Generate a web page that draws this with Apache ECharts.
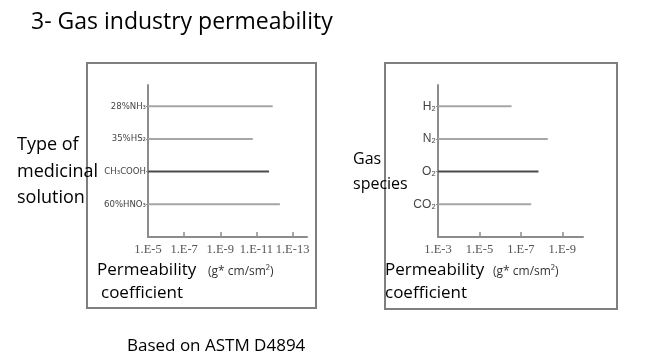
<!DOCTYPE html>
<html>
<head>
<meta charset="utf-8">
<script src="https://cdn.jsdelivr.net/npm/echarts@6/dist/echarts.min.js"></script>
<style>html,body{margin:0;padding:0;background:#fff}#c{width:650px;height:363px}</style>
</head>
<body>
<div id="c"></div>
<script>
// Left panel: medicinal solutions, permeability exponent n in 1.E-n
const solutionCategories = ['28%NH₃', '35%HS₂', 'CH₃COOH', '60%HNO₃'];
const solutionExponents = [11.9, 10.8, 11.7, 12.3];
const solutionTickLabels = [5, 7, 9, 11, 13];
// Right panel: gas species
const gasCategories = ['H₂', 'N₂', 'O₂', 'CO₂'];
const gasExponents = [6.55, 8.3, 7.85, 7.5];
const gasTickLabels = [3, 5, 7, 9];

const chart = echarts.init(document.getElementById('c'));
const light = '#a6a6a6', dark = '#4a4a4a', highlightRow = 2;
const txt = '#000', fam = 'Open Sans, Noto Sans, sans-serif';

function rowSeries(cats, vals, start, axisIdx) {
  return cats.map((c, i) => ({
    type: 'line', xAxisIndex: axisIdx, yAxisIndex: axisIdx,
    symbol: 'none', silent: true, animation: false,
    lineStyle: { width: 2, color: i === highlightRow ? dark : light },
    data: [[start, cats.length - i], [vals[i], cats.length - i]]
  }));
}
function yAxis(gi, cats, fontSize, fontFamily) {
  return {
    type: 'value', gridIndex: gi, min: 0, max: 4.65,
    axisLine: { show: true, lineStyle: { color: '#8c8c8c', width: 2 } },
    axisTick: { show: true, length: 2, lineStyle: { color: '#8c8c8c' }, customValues: [1, 2, 3, 4] },
    splitLine: { show: false },
    axisLabel: { customValues: [1, 2, 3, 4], margin: 2, color: '#444', fontSize: fontSize, fontFamily: fontFamily,
      formatter: v => cats[cats.length - v] }
  };
}
function xAxis(gi, min, max, labels) {
  return {
    type: 'value', gridIndex: gi, min: min, max: max,
    axisLine: { show: true, lineStyle: { color: '#8c8c8c', width: 2 } },
    axisTick: { show: true, inside: true, length: 5, lineStyle: { color: '#8c8c8c', width: 1.5 }, customValues: labels.slice(1) },
    splitLine: { show: false },
    axisLabel: { customValues: labels, margin: 6, color: '#555', fontSize: 12.5, fontFamily: 'Liberation Serif, serif',
      formatter: v => '1.E-' + v }
  };
}

chart.setOption({
  animation: false,
  grid: [
    { left: 148, top: 85, width: 159, height: 152 },
    { left: 438, top: 85, width: 145, height: 152 }
  ],
  xAxis: [xAxis(0, 5, 13.8, solutionTickLabels), xAxis(1, 3, 10, gasTickLabels)],
  yAxis: [yAxis(0, solutionCategories, 9.5, 'Liberation Sans Narrow, DejaVu Sans Condensed, sans-serif'),
          yAxis(1, gasCategories, 12, 'Liberation Sans, sans-serif')],
  series: rowSeries(solutionCategories, solutionExponents, 5, 0)
    .concat(rowSeries(gasCategories, gasExponents, 3, 1)),
  graphic: [
    { type: 'rect', shape: { x: 87, y: 63, width: 229, height: 245 }, style: { fill: 'none', stroke: '#7f7f7f', lineWidth: 2 } },
    { type: 'rect', shape: { x: 385, y: 63, width: 232, height: 246 }, style: { fill: 'none', stroke: '#7f7f7f', lineWidth: 2 } },
    { type: 'text', left: 31, top: 11, style: { text: '3- Gas industry permeability', fill: txt, font: '23px ' + fam } },
    { type: 'text', left: 17, top: 132, style: { text: 'Type of\nmedicinal\nsolution', fill: txt, font: '18px ' + fam, lineHeight: 26.5 } },
    { type: 'text', left: 353, top: 147, style: { text: 'Gas\nspecies', fill: txt, font: '16px ' + fam, lineHeight: 25 } },
    { type: 'text', left: 97, top: 262, style: { text: 'Permeability', fill: txt, font: '17px ' + fam } },
    { type: 'text', left: 208, top: 266, style: { text: '(g* cm/sm²)', fill: '#333', font: '12px ' + fam } },
    { type: 'text', left: 101, top: 285, style: { text: 'coefficient', fill: txt, font: '17px ' + fam } },
    { type: 'text', left: 385, top: 262, style: { text: 'Permeability', fill: txt, font: '17px ' + fam } },
    { type: 'text', left: 493, top: 266, style: { text: '(g* cm/sm²)', fill: '#333', font: '12px ' + fam } },
    { type: 'text', left: 385, top: 285, style: { text: 'coefficient', fill: txt, font: '17px ' + fam } },
    { type: 'text', left: 127, top: 338, style: { text: 'Based on ASTM D4894', fill: txt, font: '17px ' + fam } }
  ]
});
</script>
</body>
</html>
